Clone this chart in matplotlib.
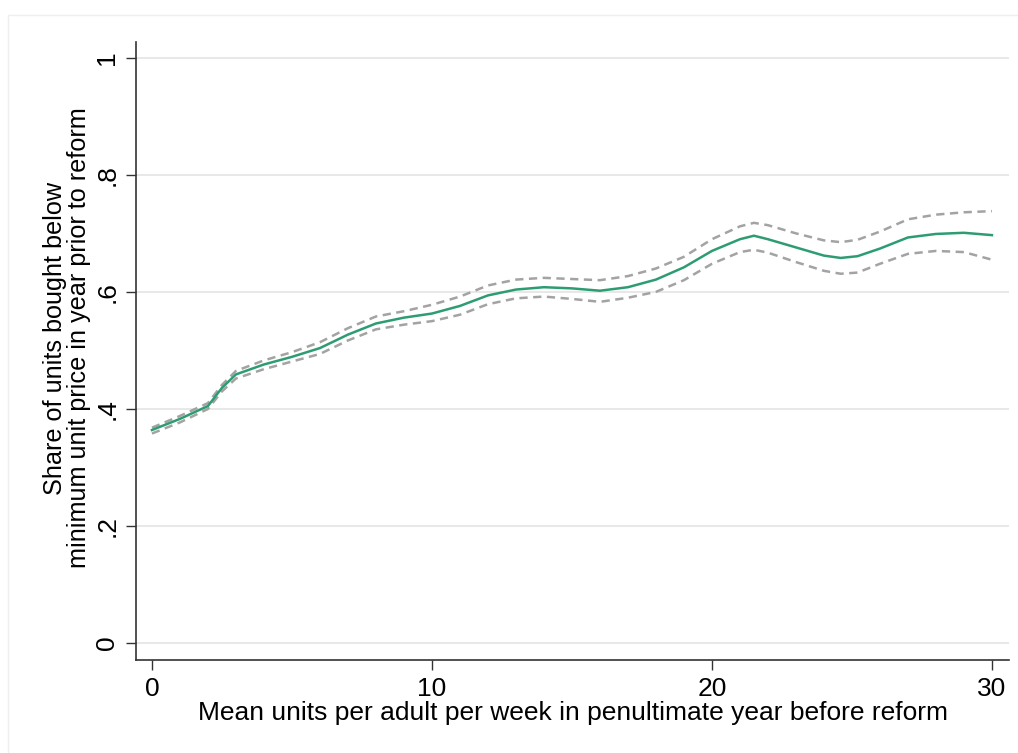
import matplotlib.pyplot as plt
from matplotlib.patches import Rectangle

plt.rcParams['font.family'] = ['Liberation Sans', 'DejaVu Sans']

units = [0, 1, 2, 2.5, 3, 4, 5, 6, 7, 8, 9, 10, 11, 12, 13, 14, 15, 16, 17,
         18, 19, 20, 21, 21.5, 22, 23, 24, 24.6, 25.2, 26, 27, 28, 29, 30]
share = [0.364, 0.383, 0.405, 0.436, 0.459, 0.476, 0.489, 0.504, 0.527, 0.546,
         0.556, 0.563, 0.576, 0.594, 0.604, 0.608, 0.606, 0.602, 0.608, 0.621,
         0.642, 0.670, 0.690, 0.696, 0.690, 0.676, 0.662, 0.658, 0.661, 0.674,
         0.693, 0.699, 0.701, 0.697]
upper = [0.368, 0.388, 0.410, 0.441, 0.465, 0.483, 0.497, 0.514, 0.538, 0.558,
         0.567, 0.578, 0.592, 0.611, 0.621, 0.624, 0.622, 0.620, 0.627, 0.640,
         0.660, 0.690, 0.712, 0.718, 0.714, 0.700, 0.688, 0.685, 0.689, 0.703,
         0.724, 0.732, 0.736, 0.738]
lower = [0.358, 0.377, 0.400, 0.430, 0.452, 0.468, 0.481, 0.494, 0.517, 0.536,
         0.544, 0.550, 0.561, 0.579, 0.589, 0.592, 0.588, 0.583, 0.590, 0.600,
         0.620, 0.648, 0.668, 0.672, 0.667, 0.651, 0.636, 0.631, 0.633, 0.648,
         0.665, 0.670, 0.668, 0.655]

xticks = [0, 10, 20, 30]
yticks = [0, 0.2, 0.4, 0.6, 0.8, 1]
ylabels = ["0", ".2", ".4", ".6", ".8", "1"]

fig = plt.figure(figsize=(10.18, 7.53), dpi=100)
fig.patches.append(Rectangle((8 / 1018, -0.1), 1.2, (753 - 15) / 753 + 0.1,
                             transform=fig.transFigure, fill=False,
                             edgecolor="#eeeeee", linewidth=1))
ax = fig.add_axes([136 / 1018, 93 / 753, 873 / 1018, 618 / 753])

ax.plot(units, upper, color="#a3a3a3", linewidth=1.8, dashes=(3.3, 2.2))
ax.plot(units, lower, color="#a3a3a3", linewidth=1.8, dashes=(3.3, 2.2))
ax.plot(units, share, color="#2e9c73", linewidth=1.8)

ax.set_xlim(-0.57, 30.61)
ax.set_ylim(-0.029, 1.027)
ax.set_xticks(xticks)
ax.set_yticks(yticks)
ax.set_yticklabels(ylabels, rotation=90, va="center")
ax.tick_params(direction="out", length=7, width=1, labelsize=19, color="#333333")
ax.tick_params(axis="y", pad=5)
ax.tick_params(axis="x", pad=5)
ax.grid(axis="y", color="#e6e6e6", linewidth=1.3)
ax.set_axisbelow(True)
for s in ["top", "right"]:
    ax.spines[s].set_visible(False)
for s in ["left", "bottom"]:
    ax.spines[s].set_color("#333333")
    ax.spines[s].set_linewidth(1.2)

ax.set_xlabel("Mean units per adult per week in penultimate year before reform",
              fontsize=19, labelpad=0)
ax.set_ylabel("Share of units bought below\nminimum unit price in year prior to reform",
              fontsize=18.2, linespacing=1.0)
ax.yaxis.set_label_coords(-0.051, 0.521)

plt.savefig("out.png")
